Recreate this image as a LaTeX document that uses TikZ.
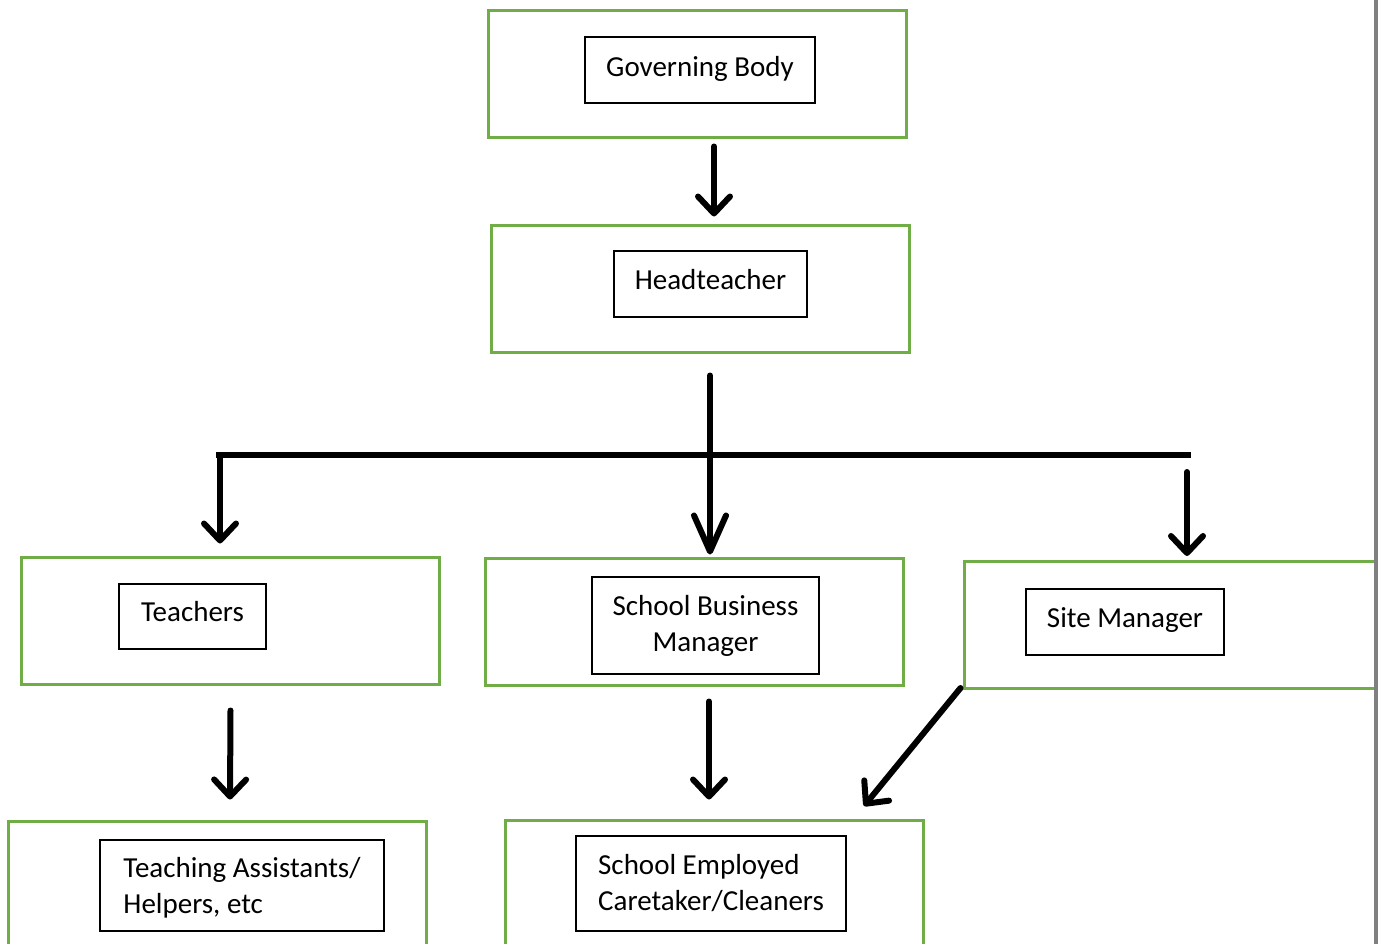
\documentclass[tikz,border=0pt]{standalone}
\usepackage{fontspec}
\setmainfont{Carlito}
\usetikzlibrary{arrows.meta}
\usetikzlibrary{calc}
\definecolor{grn}{HTML}{70AD47}

\begin{document}
\begin{tikzpicture}[x=1pt, y=-1pt,
    outer/.style={draw=grn, line width=3pt, inner sep=0pt, minimum width=418pt, minimum height=127pt},
    inner/.style={draw, line width=1.2pt, inner sep=0pt, font=\fontsize{29}{36}\selectfont},
    oneline/.style={text height=20pt, text depth=10pt},
    arr/.style={line width=6pt, line cap=round, -{Straight Barb[length=17pt, width=32pt, round]}}]
      \path[use as bounding box, clip] (0,0) rectangle (1378,944);

      \node[outer] (gb) at (697,74.5) {};
      \node[outer] (ht) at (700,288.5) {};
      \node[outer] (teach) at (230.5,620.5) {};
      \node[outer] (sbm) at (694,621.5) {};
      \node[outer] (sm) at (1173,625) {};
      \node[outer] (ta) at (217.5,884.5) {};
      \node[outer] (sec) at (714,883.5) {};

      \node[inner, oneline, text depth=7pt, minimum width=230pt, minimum height=66pt] (gbt) at (700,70) {Governing Body};
      \node[inner, oneline, minimum width=193pt, minimum height=66pt] (htt) at (710.5,284) {Headteacher};
      \node[inner, oneline, minimum width=147pt, minimum height=65pt] (teacht) at (192.5,616.5) {Teachers};
      \node[inner, minimum width=227pt, minimum height=97pt, align=center] (sbmt) at (705.5,625.5) {School Business\\Manager};
      \node[inner, oneline, minimum width=198pt, minimum height=66pt] (smt) at (1125,622) {Site Manager};
      \node[inner, minimum width=284pt, minimum height=91pt, align=left, text depth=0pt] (tat) at (242,885.5) {Teaching Assistants/\\Helpers, etc};
      \node[inner, minimum width=270pt, minimum height=95pt, align=left] (sect) at (711,883.5) {School Employed\\Caretaker/Cleaners};

      \coordinate (barL) at (216,455);
      \coordinate (barR) at (1191,455);
      \draw[line width=6pt] (barL) -- (barR);

      \draw[arr] ($(gb.south)+(17,7)$) -- ($(ht.north)+(14,-7)$);
      \draw[arr, -{Straight Barb[length=36pt, width=32pt, round]}] ($(ht.south)+(10,22)$) -- ($(sbm.north)+(16,-2)$);
      \draw[arr] ($(barL)+(4,3)$) -- ($(teach.north)+(-10.5,-12)$);
      \draw[arr] ($(barR)+(-4,17)$) -- ($(sm.north)+(14,-4)$);
      \draw[arr] ($(teach.south)+(0,25)$) -- ($(ta.north)+(12.5,-20)$);
      \draw[arr] ($(sbm.south)+(15,15)$) -- ($(sec.north)+(-5,-19)$);
      \draw[arr] ($(sm.south west)+(-2,-2)$) -- ($(sec.north east)+(-60.5,-12.5)$);

      \fill[gray] (1374,0) rectangle (1378,944);
    \end{tikzpicture}
\end{document}
